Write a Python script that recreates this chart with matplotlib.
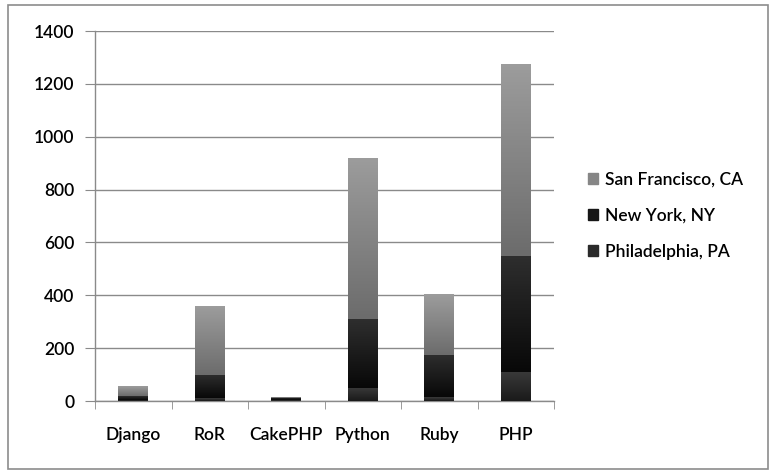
import numpy as np
import matplotlib.pyplot as plt
from matplotlib.patches import Rectangle
from matplotlib.colors import LinearSegmentedColormap

plt.rcParams['font.family'] = ['Lato', 'DejaVu Sans']
plt.rcParams['font.weight'] = 'semibold'

# frameworks along the x axis
categories = ['Django', 'RoR', 'CakePHP', 'Python', 'Ruby', 'PHP']

# job counts per city (stacked bottom -> top)
philadelphia = [5, 10, 3, 50, 15, 110]
new_york = [15, 90, 9, 260, 160, 440]
san_francisco = [37, 260, 4, 610, 230, 725]

series = [('Philadelphia, PA', philadelphia, '#3a3a3a', '#1a1a1a'),
          ('New York, NY', new_york, '#2e2e2e', '#080808'),
          ('San Francisco, CA', san_francisco, '#9c9c9c', '#6c6c6c')]

fig = plt.figure(figsize=(7.69, 4.71), dpi=100)
# light grey frame round the whole chart
fig.patches.append(Rectangle((8 / 769, 2 / 471), 760 / 769, 464 / 471,
                             transform=fig.transFigure, fill=False,
                             edgecolor='#8c8c8c', linewidth=1.2))

ax = fig.add_axes([95 / 769, 70 / 471, 459 / 769, 370 / 471])

x = np.arange(len(categories))
bottom = np.zeros(len(categories))
for name, vals, ctop, cbot in series:
    bars = ax.bar(x, vals, width=0.39, bottom=bottom, color=cbot,
                  edgecolor='none', zorder=3, label=name)
    cmap = LinearSegmentedColormap.from_list(name, [cbot, ctop])
    grad = np.linspace(0, 1, 64).reshape(-1, 1)
    for b in bars:
        if b.get_height() <= 0:
            continue
        x0, y0 = b.get_x(), b.get_y()
        im = ax.imshow(grad, cmap=cmap, aspect='auto', origin='lower',
                       extent=[x0, x0 + b.get_width(), y0, y0 + b.get_height()],
                       zorder=4)
        im.set_clip_path(b)
    bottom += np.array(vals)

ax.set_xlim(-0.5, len(categories) - 0.5)
ax.set_ylim(0, 1400)
ax.set_yticks(range(0, 1401, 200))
ax.yaxis.grid(True, color='#8a8a8a', linewidth=1.0, zorder=0)
ax.set_axisbelow(True)

# category ticks sit between the groups
ax.set_xticks(x)
ax.set_xticklabels(categories)
ax.set_xticks(np.arange(-0.5, len(categories), 1), minor=True)
ax.tick_params(axis='x', which='major', length=0, pad=19, labelsize=12.5)
ax.tick_params(axis='x', which='minor', length=6, color='#8a8a8a', direction='out')
ax.tick_params(axis='y', length=7, color='#8a8a8a', labelsize=12.5, pad=8)

for side in ['top', 'right']:
    ax.spines[side].set_visible(False)
for side in ['left', 'bottom']:
    ax.spines[side].set_color('#8a8a8a')
    ax.spines[side].set_linewidth(1.0)

order = ['San Francisco, CA', 'New York, NY', 'Philadelphia, PA']
leg_handles = [Rectangle((0, 0), 1, 1, color=c) for c in ['#868686', '#161616', '#2a2a2a']]
ax.legend(leg_handles, order, loc='center left', bbox_to_anchor=(1.04, 0.5),
          frameon=False, fontsize=12.5, handlelength=0.6, handleheight=0.6,
          handletextpad=0.4, labelspacing=1.15)

fig.savefig('out.png', dpi=100)
